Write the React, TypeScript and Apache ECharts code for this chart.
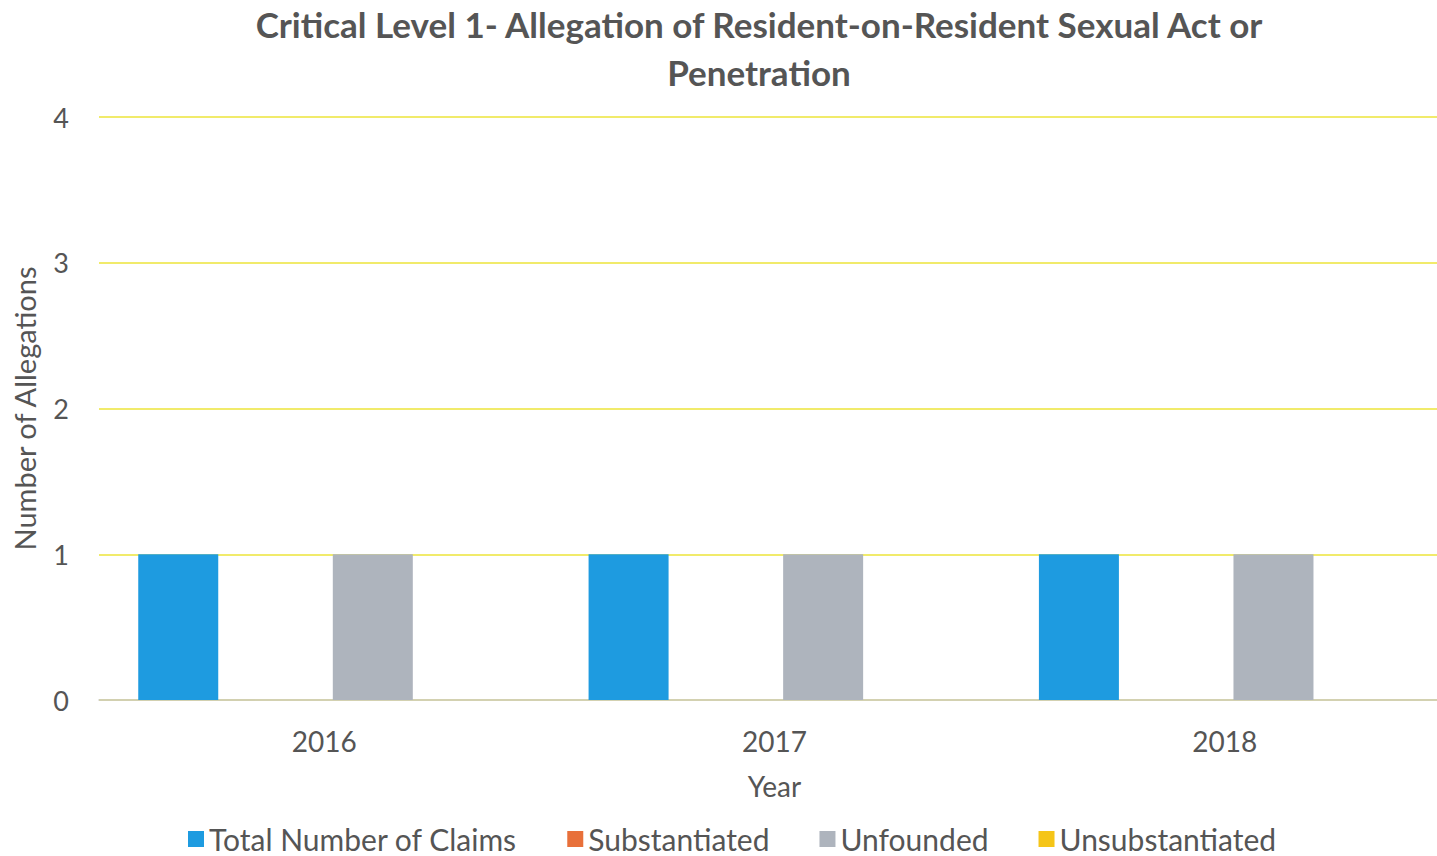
import React, { useEffect, useRef } from "react";
import * as echarts from "echarts";

const years = ["2016", "2017", "2018"];
const totalClaims = [1, 1, 1];
const substantiated = [0, 0, 0];
const unfounded = [1, 1, 1];
const unsubstantiated = [0, 0, 0];
const yTicks = [0, 1, 2, 3, 4];

const FONT = "Lato, 'Open Sans', sans-serif";

export default function App() {
  const ref = useRef<HTMLDivElement>(null);
  useEffect(() => {
    if (!ref.current) return;
    const chart = echarts.init(ref.current, undefined, { renderer: "svg" });
    const barCommon = { type: "bar" as const, barWidth: 80, barGap: "21.6%" };
    chart.setOption({
      animation: false,
      backgroundColor: "#ffffff",
      textStyle: { fontFamily: FONT },
      title: {
        text: "Critical Level 1- Allegation of Resident-on-Resident Sexual Act or\nPenetration",
        left: 754,
        textAlign: "center",
        top: -5,
        textStyle: {
          fontFamily: FONT,
          fontSize: 35,
          fontWeight: "bold",
          color: "#555555",
          lineHeight: 48,
        },
      },
      legend: {
        left: 183,
        top: 819,
        itemWidth: 16,
        itemHeight: 16,
        itemGap: 50,
        icon: "rect",
        textStyle: { fontFamily: FONT, fontSize: 30, color: "#555555" },
        data: ["Total Number of Claims", "Substantiated", "Unfounded", "Unsubstantiated"],
      },
      grid: { left: 99, right: 0, top: 117, bottom: 156 },
      xAxis: {
        type: "category",
        data: years,
        name: "Year",
        nameLocation: "middle",
        nameGap: 72,
        nameTextStyle: { fontFamily: FONT, fontSize: 28, color: "#555555" },
        axisTick: { show: false },
        axisLine: { z: 5, lineStyle: { color: "#c8c8c8", width: 1.5 } },
        axisLabel: { fontFamily: FONT, fontSize: 28, color: "#555555", margin: 27 },
      },
      yAxis: {
        type: "value",
        min: 0,
        max: yTicks[yTicks.length - 1],
        interval: 1,
        name: "Number of Allegations",
        nameLocation: "middle",
        nameGap: 60,
        nameTextStyle: { fontFamily: FONT, fontSize: 29, color: "#555555" },
        axisLabel: { fontFamily: FONT, fontSize: 27, color: "#555555", margin: 30 },
        splitLine: { lineStyle: { color: "#ece43a", width: 1.5 } },
      },
      series: [
        { ...barCommon, name: "Total Number of Claims", data: totalClaims, itemStyle: { color: "#1e9be0" } },
        { ...barCommon, name: "Substantiated", data: substantiated, itemStyle: { color: "#e8703a" } },
        { ...barCommon, name: "Unfounded", data: unfounded, itemStyle: { color: "#aeb4bd" } },
        { ...barCommon, name: "Unsubstantiated", data: unsubstantiated, itemStyle: { color: "#f5c518" } },
      ],
    });
    return () => chart.dispose();
  }, []);
  return (
    <div style={{ position: "fixed", left: 0, top: 0, width: 1437, height: 856, overflow: "hidden" }}>
      <div ref={ref} style={{ width: 1450, height: 856 }} />
    </div>
  );
}
